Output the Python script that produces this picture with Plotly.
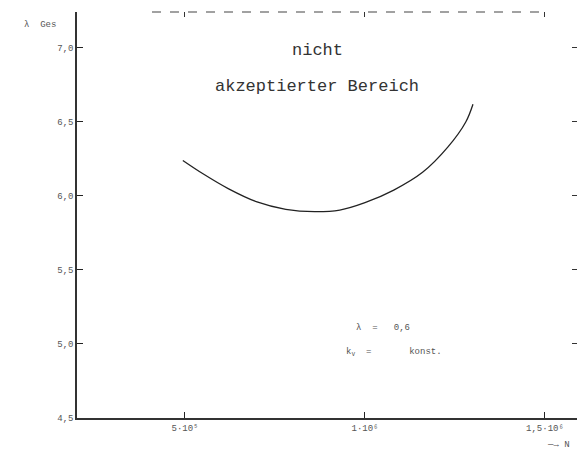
import plotly.graph_objects as go

# curve data (N, lambda)
n_vals = [4.94e5, 5.5e5, 6.2e5, 7.0e5, 7.8e5, 8.6e5, 9.3e5, 1.0e6, 1.08e6, 1.16e6, 1.23e6, 1.28e6, 1.30e6]
lam_vals = [6.24, 6.15, 6.05, 5.96, 5.91, 5.894, 5.905, 5.955, 6.04, 6.16, 6.33, 6.50, 6.62]

x_ticks = [5e5, 1e6, 1.5e6]
x_tick_labels = ["5·10⁵", "1·10⁶", "1,5·10⁶"]
y_ticks = [4.5, 5.0, 5.5, 6.0, 6.5, 7.0]
y_tick_labels = ["4,5", "5,0", "5,5", "6,0", "6,5", "7,0"]

X_RANGE = [2e5, 1.589e6]
Y_RANGE = [4.5, 7.243]

fig = go.Figure()
fig.add_trace(go.Scatter(x=n_vals, y=lam_vals, mode="lines",
                         line=dict(color="#222", width=1.3, shape="spline", smoothing=1.0),
                         showlegend=False, hoverinfo="skip"))
# invisible trace for mirrored axes
fig.add_trace(go.Scatter(x=[X_RANGE[0]], y=[Y_RANGE[0]], xaxis="x2", yaxis="y2", mode="markers",
                         marker=dict(opacity=0), showlegend=False, hoverinfo="skip"))

tickfont = dict(family="Liberation Mono", size=9, color="#555")
fig.update_layout(
    width=587, height=460, plot_bgcolor="white", paper_bgcolor="white",
    margin=dict(l=69, r=18, t=4, b=50, autoexpand=False),
    xaxis=dict(range=X_RANGE, tickvals=x_ticks, ticktext=x_tick_labels, ticks="inside", ticklen=6,
               tickcolor="#222", showline=True, linecolor="#333", linewidth=1.5, showgrid=False,
               zeroline=False, tickfont=tickfont),
    yaxis=dict(range=Y_RANGE, tickvals=y_ticks, ticktext=y_tick_labels, ticks="inside", ticklen=6,
               tickcolor="#222", showline=True, linecolor="#333", linewidth=1.5, showgrid=False,
               zeroline=False, tickfont=tickfont),
    xaxis2=dict(range=X_RANGE, overlaying="x", side="top", tickvals=x_ticks, ticks="inside", ticklen=5,
                tickcolor="#333", showticklabels=False, showline=False, showgrid=False, zeroline=False),
    yaxis2=dict(range=Y_RANGE, overlaying="y", side="right", tickvals=y_ticks, ticks="inside", ticklen=5,
                tickcolor="#333", showticklabels=False, showline=False, showgrid=False, zeroline=False),
    font=dict(family="Liberation Mono", color="#333"),
    shapes=[dict(type="line", xref="paper", yref="paper", x0=0.15, x1=0.94, y0=1, y1=1,
                 line=dict(color="#444", width=1.2, dash="dash"))],
    annotations=[
        dict(x=8.69e5, y=6.98, text="nicht", showarrow=False, font=dict(size=17, color="#333")),
        dict(x=8.67e5, y=6.743, text="akzeptierter Bereich", showarrow=False, font=dict(size=17, color="#333")),
        dict(x=1.05e6, y=5.11, text="λ  =   0,6", showarrow=False, font=dict(size=9, color="#555")),
        dict(x=1.08e6, y=4.94, text="k<sub>v</sub>  =       konst.", showarrow=False, font=dict(size=9, color="#555")),
        dict(xref="paper", yref="paper", x=-0.11, y=0.985, text="λ  Ges", showarrow=False,
             xanchor="left", font=dict(size=9, color="#555")),
        dict(xref="paper", yref="paper", x=0.935, y=-0.084, text="—→ N", showarrow=False,
             xanchor="left", font=dict(size=9, color="#555")),
    ],
)
fig.write_html("out.html")
